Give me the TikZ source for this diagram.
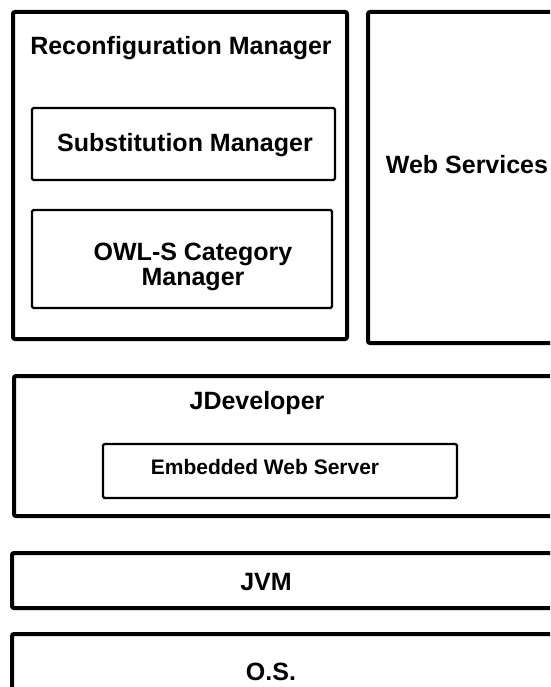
\documentclass[tikz,border=0pt]{standalone}
\usepackage{fontspec}
\setmainfont{Liberation Sans}

\tikzset{
  outerbox/.style={line width=4pt,rounded corners=2pt},
  innerbox/.style={line width=2.3pt,rounded corners=1.5pt},
  biglabel/.style={font=\fontsize{25}{25.5}\selectfont\bfseries,align=center,inner sep=0pt},
  smalllabel/.style={font=\fontsize{21}{22}\selectfont\bfseries,inner sep=0pt}
}

\begin{document}
\begin{tikzpicture}[x=1pt,y=-1pt]
        \useasboundingbox (0,0) rectangle (550,687);
        \clip (0,0) rectangle (550,687);
        % upper layer
        \draw[outerbox] (13,12) rectangle (347,339);
        \draw[innerbox] (32,108) rectangle (335,180);
        \draw[innerbox] (32,210) rectangle (332,308);
        \draw[outerbox] (368,12) rectangle (580,343);
        \node[biglabel] (reconf) at (181,48) {Reconfiguration Manager};
        \node[biglabel] (subst) at (185,145) {Substitution Manager};
        \node[biglabel] (owls) at (193,267) {OWL-S Category\\Manager};
        \node[biglabel] (websrv) at (467,165) {Web Services};
        % JDeveloper
        \draw[outerbox] (14,376) rectangle (580,516);
        \draw[innerbox] (103,444) rectangle (457,498);
        \node[biglabel] (jdev) at (257,403) {JDeveloper};
        \node[smalllabel] (ews) at (265,467) {Embedded Web Server};
        % JVM and O.S.
        \draw[outerbox] (12,553) rectangle (580,608);
        \node[biglabel] (jvm) at (266,582) {JVM};
        \draw[outerbox] (12,634) rectangle (580,720);
        \node[biglabel] (os) at (271,672) {O.S.};
    \end{tikzpicture}
\end{document}
